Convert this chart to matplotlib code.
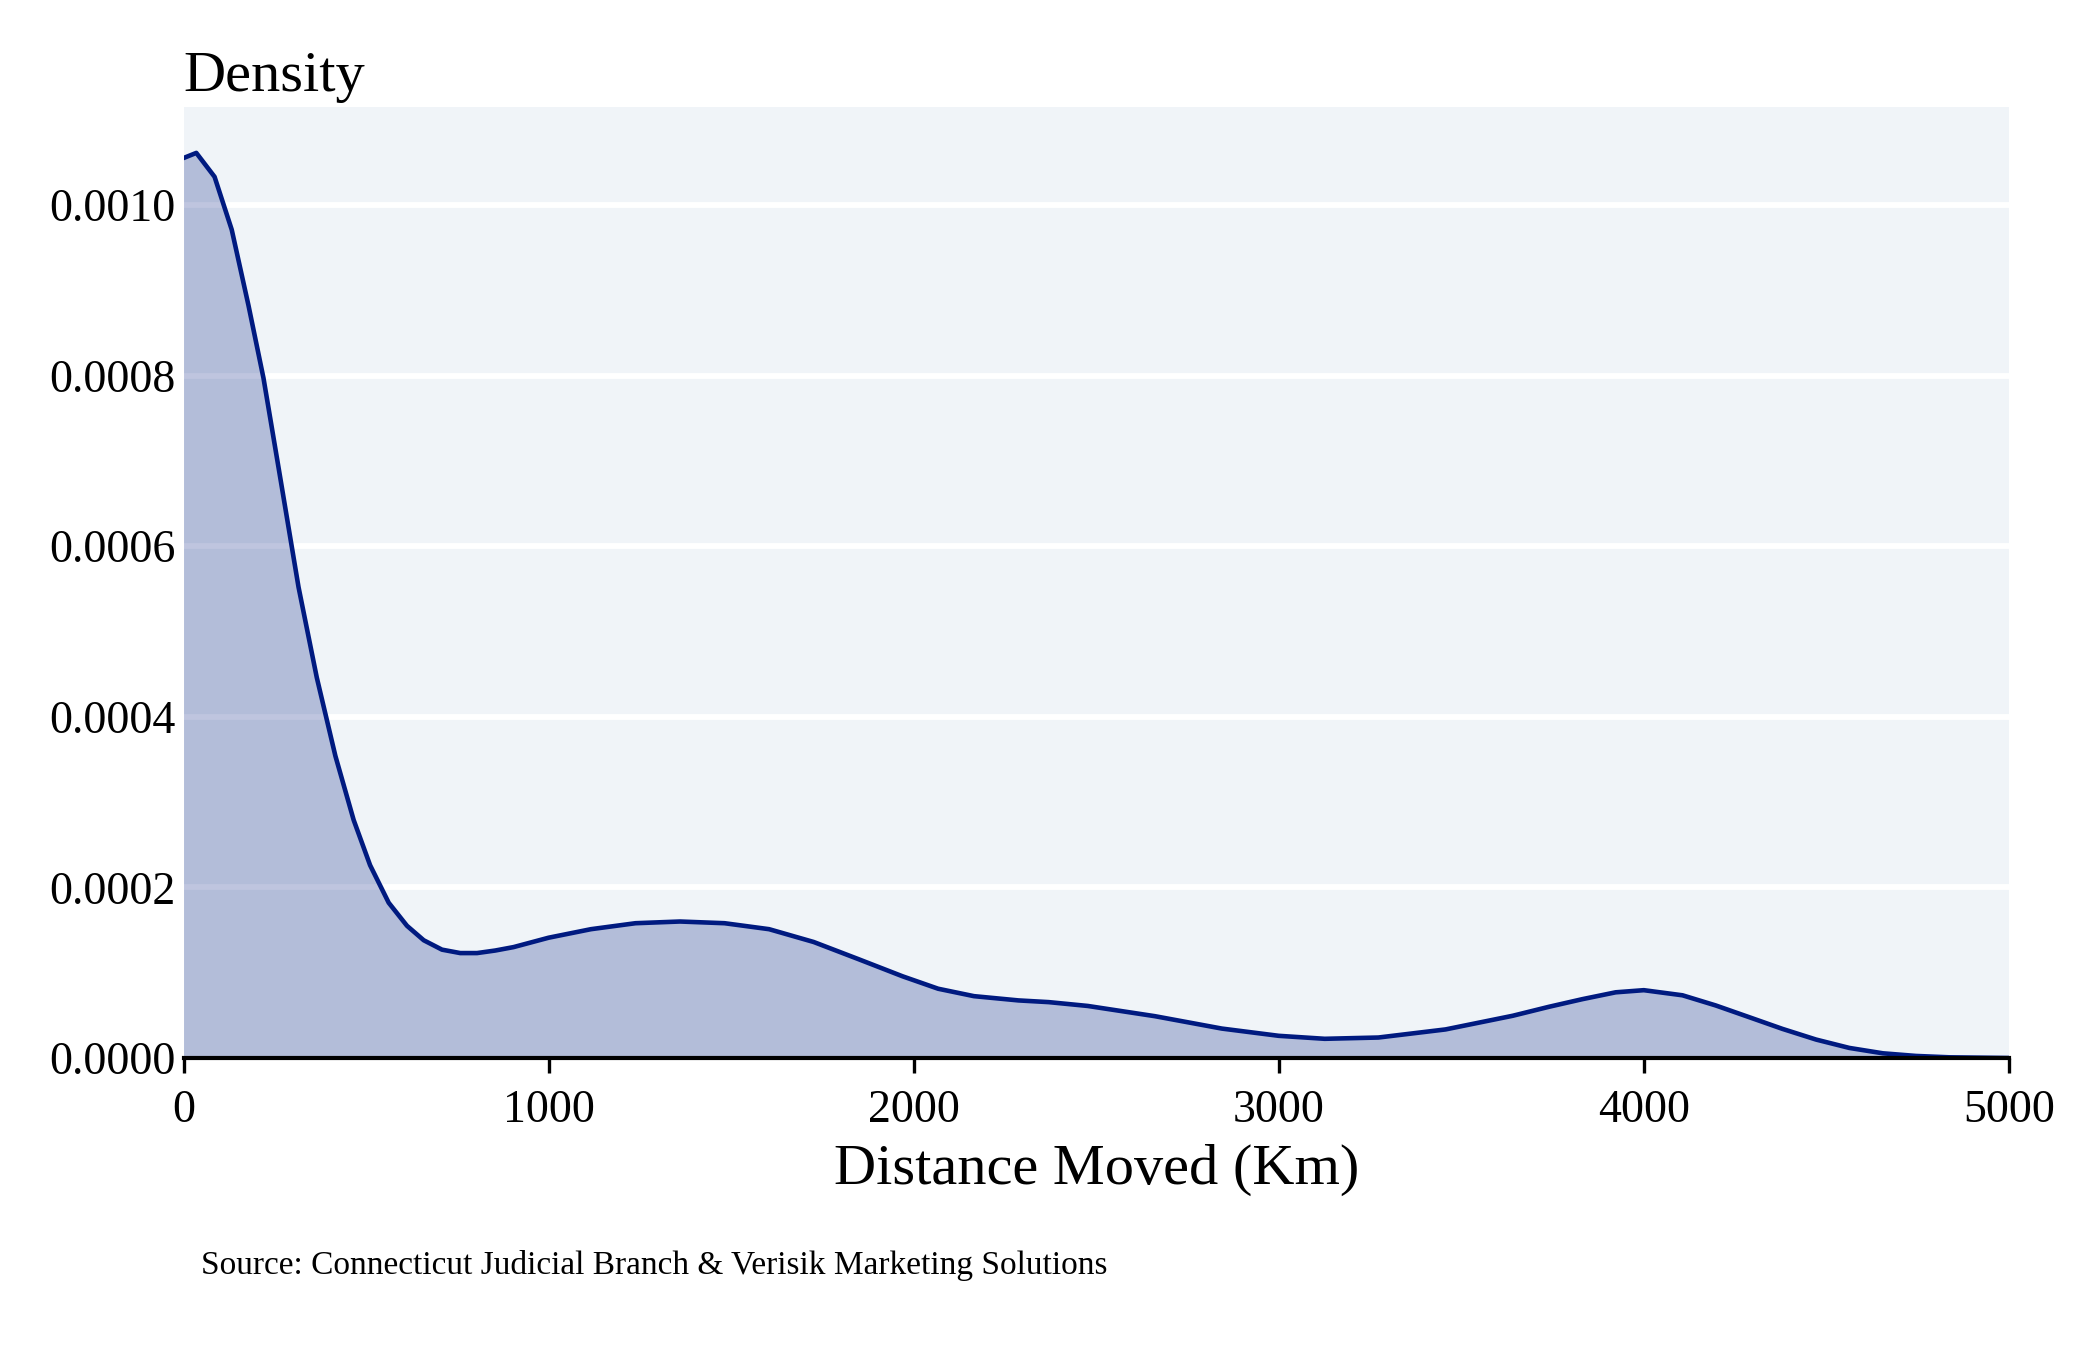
import matplotlib
matplotlib.use("Agg")
import matplotlib.pyplot as plt

# density curve (km, density)
distance_km = [0, 35, 85, 132, 178, 219, 265, 315, 365, 416, 466, 511, 562, 612,
               658, 708, 758, 804, 854, 904, 1000, 1116, 1238, 1360, 1482, 1604,
               1726, 1848, 1970, 2067, 2165, 2287, 2370, 2477, 2661, 2844, 3000,
               3126, 3273, 3457, 3641, 3740, 3832, 3923, 4000, 4106, 4197, 4289,
               4380, 4472, 4563, 4655, 4746, 4837, 5000]
density = [0.001055, 0.001061, 0.001033, 0.000971, 0.000882, 0.000797, 0.000680,
           0.000552, 0.000446, 0.000354, 0.000279, 0.000226, 0.000182, 0.000155,
           0.000138, 0.000127, 0.000123, 0.000123, 0.000126, 0.000130, 0.000141,
           0.000151, 0.000158, 0.000160, 0.000158, 0.000151, 0.000136, 0.000116,
           0.0000957, 0.0000812, 0.0000725, 0.0000675, 0.0000655, 0.0000610,
           0.0000490, 0.0000345, 0.0000260, 0.0000225, 0.0000240, 0.0000335,
           0.0000495, 0.0000600, 0.0000690, 0.0000770, 0.0000795, 0.0000735,
           0.0000616, 0.0000478, 0.0000341, 0.0000216, 0.0000118, 0.0000055,
           0.0000024, 0.0000008, 0.0]

x_ticks = [0, 1000, 2000, 3000, 4000, 5000]
y_ticks = [0.0, 0.0002, 0.0004, 0.0006, 0.0008, 0.0010]

navy = "#001a80"
plt.rcParams["font.family"] = ["Liberation Serif", "DejaVu Serif"]

fig = plt.figure(figsize=(7, 4.5), dpi=300)
ax = fig.add_axes([0.0874, 0.2163, 0.8692, 0.7043])
ax.set_facecolor("#f0f4f8")

# white horizontal grid under the fill
for yv in y_ticks[1:]:
    ax.axhline(yv, color="white", linewidth=1.4, zorder=1)

ax.fill_between(distance_km, density, 0, color=navy, alpha=0.25, linewidth=0, zorder=2)
ax.plot(distance_km, density, color=navy, linewidth=1.1, zorder=3,
        solid_joinstyle="round")

ax.set_xlim(0, 5000)
ax.set_ylim(0, 0.0011146)
ax.set_xticks(x_ticks)
ax.set_xticklabels([str(t) for t in x_ticks])
ax.set_yticks(y_ticks)
ax.set_yticklabels([f"{t:.4f}" for t in y_ticks])

for side in ["left", "right", "top"]:
    ax.spines[side].set_visible(False)
ax.spines["bottom"].set_color("black")
ax.spines["bottom"].set_linewidth(1.0)
ax.spines["bottom"].set_zorder(4)

ax.tick_params(axis="x", length=3.5, width=0.8, color="black", labelsize=11, pad=4)
ax.tick_params(axis="y", length=0, labelsize=11, pad=2)

ax.set_xlabel("Distance Moved (Km)", fontsize=14, labelpad=3)
ax.set_title("Density", loc="left", fontsize=14, pad=4)

fig.text(0.0957, 0.0625, "Source: Connecticut Judicial Branch & Verisik Marketing Solutions",
         fontsize=8, va="center", ha="left")

fig.savefig("out.png", dpi=300)
